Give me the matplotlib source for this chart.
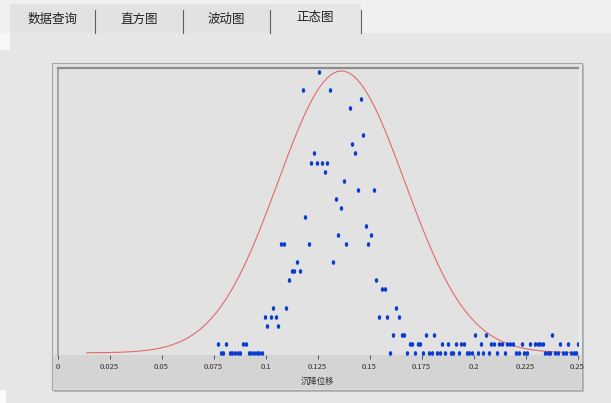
import numpy as np
import matplotlib
matplotlib.use("Agg")
import matplotlib.pyplot as plt
from matplotlib.patches import Rectangle
from matplotlib.path import Path
from matplotlib.transforms import Affine2D

plt.rcParams['font.family'] = ['Noto Sans CJK SC', 'DejaVu Sans']

# tabs of the window
tabs = ["数据查询", "直方图", "波动图", "正态图"]
x_label = "沉降位移"

# scatter: settlement value and frequency level
x_vals = [
    0.1259,
    0.1179, 0.1310,
    0.1457,
    0.1405,
    0.1468,
    0.1416,
    0.1233, 0.1431,
    0.1221, 0.1246, 0.1272, 0.1298,
    0.1285,
    0.1376,
    0.1444, 0.1521,
    0.1338,
    0.1363,
    0.1192,
    0.1482,
    0.1350, 0.1508,
    0.1074, 0.1087, 0.1208, 0.1389, 0.1495,
    0.1153, 0.1325,
    0.1127, 0.1139, 0.1166,
    0.1114, 0.1533,
    0.1560, 0.1573,
    0.1036, 0.1100, 0.1627,
    0.0996, 0.1025, 0.1050, 0.1547, 0.1586, 0.1640,
    0.1009, 0.1062,
    0.1614, 0.1656, 0.1667, 0.1770, 0.1811, 0.2009, 0.2060, 0.2376,
    0.0773, 0.0811, 0.0892, 0.0905, 0.1693, 0.1704, 0.1731, 0.1744, 0.1850,
    0.1876, 0.1914, 0.1940, 0.1953, 0.2034, 0.2085, 0.2098, 0.2124, 0.2136,
    0.2162, 0.2175, 0.2188, 0.2232, 0.2270, 0.2296, 0.2309, 0.2322, 0.2335,
    0.2416, 0.2454, 0.2500,
    0.0784, 0.0797, 0.0827, 0.0840, 0.0853, 0.0866, 0.0879, 0.0919, 0.0932,
    0.0944, 0.0957, 0.0970, 0.0983, 0.1600, 0.1678, 0.1718, 0.1757, 0.1786,
    0.1799, 0.1826, 0.1839, 0.1864, 0.1890, 0.1903, 0.1929, 0.1967, 0.1980,
    0.1993, 0.2022, 0.2047, 0.2073, 0.2112, 0.2150, 0.2205, 0.2218, 0.2243,
    0.2256, 0.2344, 0.2357, 0.2370, 0.2393, 0.2406, 0.2431, 0.2444, 0.2470,
    0.2482, 0.2495,
]
y_vals = (
    [31] + [29] * 2 + [28] + [27] + [24] + [23] + [22] * 2 + [21] * 4 + [20]
    + [19] + [18] * 2 + [17] + [16] + [15] + [14] + [13] * 2 + [12] * 5
    + [10] * 2 + [9] * 3 + [8] * 2 + [7] * 2 + [5] * 3 + [4] * 6 + [3] * 2
    + [2] * 8 + [1] * 30 + [0] * 47
)

# fitted normal curve
mu = 0.1365
sigma = 0.0305
peak = 31.1
curve_x = np.linspace(0.014, 0.25, 300)
curve_y = peak * np.exp(-(curve_x - mu) ** 2 / (2 * sigma ** 2))

W, H = 611, 403
fig = plt.figure(figsize=(W / 100, H / 100), dpi=100)
fig.patch.set_facecolor("#e6e6e6")


def box(x0, y0, x1, y1, **kw):
    # rectangle in pixel coords (origin top-left), kept behind the axes
    fig.patches.append(Rectangle((x0 / W, 1 - y1 / H), (x1 - x0) / W, (y1 - y0) / H,
                                 transform=fig.transFigure, figure=fig, zorder=-5, **kw))


# window chrome
box(0, 0, W, 33, facecolor="#f0f0f0", edgecolor="none")
box(0, 33, 10, 50, facecolor="#f7f7f7", edgecolor="none")
box(0, 390, 6, H, facecolor="#fafafa", edgecolor="none")
tab_edges = [10, 95, 183, 270, 361]
for i, t in enumerate(tabs):
    x0, x1 = tab_edges[i], tab_edges[i + 1]
    fc = "#e6e6e6" if i == 3 else "#e2e2e2"
    box(x0, 4, x1, 33, facecolor=fc, edgecolor="none")
    fig.text((x0 + x1) / 2 / W, 1 - (19 if i < 3 else 17) / H, t, ha="center", va="center",
             fontsize=9, color="#202020")
for xe in tab_edges[1:]:
    fig.add_artist(plt.Line2D([xe / W, xe / W], [1 - 10 / H, 1 - 33 / H], color="#606060", lw=0.8))

# chart panel
box(54, 65, 584, 392, facecolor="#b8b8b8", edgecolor="none")
box(52, 63, 582, 390, facecolor="#e2e2e2", edgecolor="#a6a6a6", lw=0.8)
box(53, 354.5, 581, 389, facecolor="#d4d4d4", edgecolor="none")
box(577.5, 66, 582, 354.5, facecolor="#e8e8e8", edgecolor="none")

ax = fig.add_axes([57.5 / W, 1 - 354.5 / H, 520 / W, 286.2 / H])
ax.set_facecolor("#e2e2e2")

dot = Path.unit_circle().transformed(Affine2D().scale(0.72, 1.0))
ax.plot(curve_x, curve_y, color="#e26a6a", lw=0.8, zorder=2)
ax.plot(x_vals, y_vals, linestyle="none", marker=dot, markersize=3.4,
        color="#0a3cd2", markeredgewidth=0, zorder=3)

ax.set_xlim(0, 0.25)
ax.set_ylim(-0.18, 31.4)
ticks = np.arange(0, 0.2501, 0.025)
ax.set_xticks(ticks)
ax.set_xticklabels(["0", "0.025", "0.05", "0.075", "0.1", "0.125", "0.15", "0.175",
                    "0.2", "0.225", "0.25"], fontsize=5.5, color="#303030")
ax.tick_params(axis="x", direction="out", length=3, width=0.6, color="#404040", pad=3)
ax.set_yticks([])
ax.set_xlabel(x_label, fontsize=6, color="#303030", labelpad=4)

for s in ["bottom", "right"]:
    ax.spines[s].set_visible(False)
ax.spines["top"].set_color("#8c8c8c")
ax.spines["top"].set_linewidth(1.6)
ax.spines["left"].set_color("#9a9a9a")
ax.spines["left"].set_linewidth(1.2)

fig.savefig("out.png", dpi=100, facecolor=fig.get_facecolor())
